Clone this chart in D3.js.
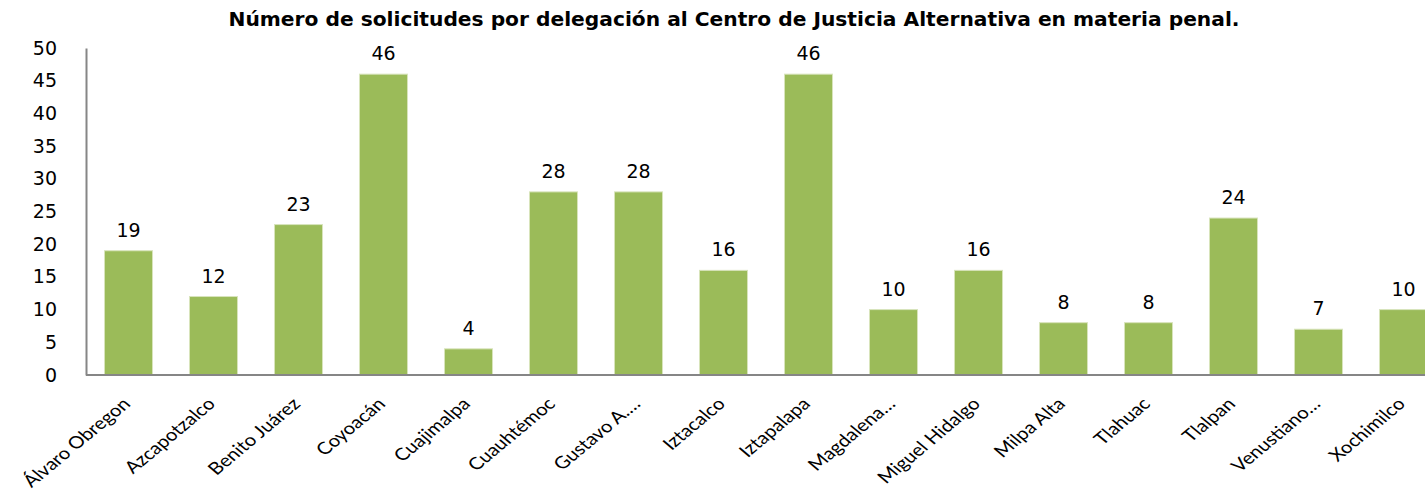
<!DOCTYPE html>
<html>
<head>
<meta charset="utf-8">
<script src="https://cdn.jsdelivr.net/npm/d3@7"></script>
<style>
  body { margin: 0; background: #fff; overflow: hidden; }
</style>
</head>
<body>
<script>
const width = 1425;
const height = 492;

const delegaciones = [
  "Álvaro Obregon", "Azcapotzalco", "Benito Juárez", "Coyoacán", "Cuajimalpa",
  "Cuauhtémoc", "Gustavo A.…", "Iztacalco", "Iztapalapa", "Magdalena…",
  "Miguel Hidalgo", "Milpa Alta", "Tlahuac", "Tlalpan", "Venustiano…", "Xochimilco"
];
const solicitudes = [19, 12, 23, 46, 4, 28, 28, 16, 46, 10, 16, 8, 8, 24, 7, 10];
const yTicks = [0, 5, 10, 15, 20, 25, 30, 35, 40, 45, 50];
const title = "Número de solicitudes por delegación al Centro de Justicia Alternativa en materia penal.";

const margin = { left: 86, top: 48, bottom: 375 };

const svg = d3.select("body")
  .append("svg")
  .attr("width", width)
  .attr("height", height);

const x = d3.scaleBand()
  .domain(delegaciones)
  .range([margin.left, margin.left + 85 * delegaciones.length])
  .paddingInner(0.435)
  .paddingOuter(0.2175);

const y = d3.scaleLinear()
  .domain([0, 50])
  .range([margin.bottom, margin.top]);

// title
svg.append("text")
  .attr("x", 734)
  .attr("y", 26)
  .attr("text-anchor", "middle")
  .attr("font-family", "DejaVu Sans")
  .attr("font-weight", "bold")
  .attr("font-size", 19)
  .attr("fill", "#000")
  .attr("textLength", 1011)
  .attr("lengthAdjust", "spacingAndGlyphs")
  .text(title);

// bars
svg.append("g")
  .selectAll("rect")
  .data(solicitudes)
  .join("rect")
  .attr("x", (d, i) => x(delegaciones[i]))
  .attr("y", d => y(d))
  .attr("width", x.bandwidth())
  .attr("height", d => y(0) - y(d))
  .attr("fill", "#9BBB59")
  .attr("stroke", "#d8e4bc")
  .attr("stroke-width", 1);

// value labels
svg.append("g")
  .selectAll("text")
  .data(solicitudes)
  .join("text")
  .attr("x", (d, i) => x(delegaciones[i]) + x.bandwidth() / 2)
  .attr("y", d => y(d) - 14)
  .attr("text-anchor", "middle")
  .attr("font-family", "DejaVu Sans")
  .attr("font-size", 19)
  .attr("fill", "#000")
  .text(d => d);

// y axis
const yAxis = svg.append("g")
  .attr("transform", `translate(${margin.left},0)`)
  .call(d3.axisLeft(y).tickValues(yTicks).tickSize(0).tickPadding(29));
yAxis.select(".domain").attr("stroke", "#868686").attr("stroke-width", 2);
yAxis.selectAll("text")
  .attr("font-family", "DejaVu Sans")
  .attr("font-size", 19)
  .attr("fill", "#000");

// x axis
const xAxis = svg.append("g")
  .attr("transform", `translate(0,${margin.bottom})`)
  .call(d3.axisBottom(x).tickSize(0).tickPadding(0));
xAxis.select(".domain")
  .attr("d", `M${margin.left},0H${width + 40}`)
  .attr("stroke", "#868686")
  .attr("stroke-width", 2);
// labels look horizontally stretched in the source, so scale x a bit
xAxis.selectAll("text")
  .attr("font-family", "Lato")
  .attr("font-size", 17)
  .attr("fill", "#000")
  .attr("text-anchor", "end")
  .attr("dy", 0)
  .attr("transform", "translate(3,30) scale(1.2,1) rotate(-45)");
</script>
</body>
</html>
